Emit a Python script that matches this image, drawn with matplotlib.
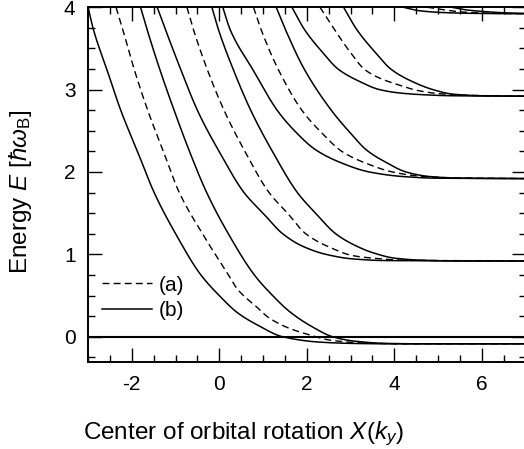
import numpy as np
from matplotlib import pyplot as plt

plt.rcParams['font.family'] = ['Liberation Sans', 'DejaVu Sans']
plt.rcParams['mathtext.fontset'] = 'custom'
plt.rcParams['mathtext.rm'] = 'Liberation Sans'
plt.rcParams['mathtext.it'] = 'Liberation Sans:italic'
plt.rcParams['axes.unicode_minus'] = False

# points, level by level (flat at about -0.085, 0.92, 1.92, 2.92, 3.92)
# level 0
x_s0a = [-3.0, -2.878, -2.57, -2.246, -1.865, -1.484, -0.995, -0.42, 0.0, 0.42, 0.9, 1.45, 2.3, 3.0, 3.8, 7.0]
e_s0a = [4.0, 3.73, 3.245, 2.74, 2.243, 1.745, 1.247, 0.75, 0.5, 0.29, 0.135, 0.0, -0.065, -0.08, -0.085, -0.085]
x_d0 = [-2.36, -2.207, -1.945, -1.63, -1.274, -0.91, -0.38, 0.21, 0.42, 0.88, 1.11, 1.53, 1.98, 2.59, 3.3, 4.2, 7.0]
e_d0 = [4.0, 3.73, 3.245, 2.74, 2.243, 1.745, 1.247, 0.75, 0.575, 0.35, 0.24, 0.118, 0.036, -0.045, -0.075, -0.085, -0.085]
x_s0b = [-1.80, -1.651, -1.36, -1.027, -0.676, -0.284, 0.21, 0.802, 1.22, 1.62, 2.135, 2.592, 3.05, 3.8, 4.5, 7.0]
e_s0b = [4.0, 3.73, 3.245, 2.74, 2.243, 1.745, 1.247, 0.75, 0.5, 0.30, 0.118, 0.0, -0.05, -0.08, -0.085, -0.085]

# level 1
x_s1a = [-1.42, -1.232, -0.882, -0.493, 0.002, 0.573, 1.0, 1.45, 1.9, 2.44, 3.05, 3.81, 7.0]
e_s1a = [4.0, 3.73, 3.245, 2.74, 2.243, 1.745, 1.5, 1.25, 1.10, 1.0, 0.945, 0.925, 0.92]
x_d1 = [-0.74, -0.592, -0.276, 0.116, 0.592, 1.145, 1.56, 1.983, 2.55, 3.05, 3.5, 4.2, 7.0]
e_d1 = [4.0, 3.73, 3.245, 2.74, 2.243, 1.745, 1.5, 1.247, 1.08, 0.985, 0.955, 0.93, 0.92]
x_s1b = [-0.17, -0.021, 0.318, 0.726, 1.221, 1.792, 2.2, 2.668, 3.1, 3.51, 4.0, 4.6, 5.5, 7.0]
e_s1b = [4.0, 3.73, 3.245, 2.74, 2.243, 1.745, 1.5, 1.247, 1.11, 1.02, 0.955, 0.93, 0.92, 0.92]

# level 2
x_s2a = [0.08, 0.246, 0.764, 1.335, 1.72, 2.2, 2.745, 3.43, 4.19, 4.95, 7.0]
e_s2a = [4.0, 3.73, 3.245, 2.74, 2.5, 2.27, 2.12, 2.0, 1.945, 1.925, 1.92]
x_d2 = [0.78, 0.954, 1.347, 1.9, 2.35, 2.82, 3.43, 3.96, 4.57, 5.3, 7.0]
e_d2 = [4.0, 3.73, 3.245, 2.74, 2.47, 2.243, 2.09, 2.0, 1.95, 1.93, 1.92]
x_s2b = [1.30, 1.51, 1.945, 2.573, 2.95, 3.38, 3.8, 4.27, 4.8, 5.5, 7.0]
e_s2b = [4.0, 3.73, 3.245, 2.74, 2.5, 2.26, 2.12, 2.0, 1.945, 1.925, 1.92]

# level 3
x_s3a = [1.66, 1.945, 2.33, 2.725, 3.2, 3.66, 4.1, 4.57, 5.33, 7.0]
e_s3a = [4.0, 3.73, 3.47, 3.245, 3.10, 3.0, 2.96, 2.94, 2.925, 2.92]
x_d3 = [2.3, 2.63, 2.97, 3.32, 3.62, 4.08, 4.57, 5.03, 5.7, 7.0]
e_d3 = [4.0, 3.73, 3.47, 3.245, 3.15, 3.06, 2.985, 2.95, 2.93, 2.92]
x_s3b = [2.84, 3.14, 3.55, 3.93, 4.4, 4.88, 5.33, 6.0, 7.0]
e_s3b = [4.0, 3.73, 3.46, 3.245, 3.10, 3.0, 2.945, 2.925, 2.92]

# level 4
x_s4a = [4.2, 4.6, 5.1, 5.8, 7.0]
e_s4a = [4.0, 3.955, 3.935, 3.925, 3.92]
x_d4 = [4.75, 5.1, 5.6, 6.3, 7.0]
e_d4 = [4.0, 3.97, 3.94, 3.925, 3.92]
x_s4b = [5.3, 5.6, 6.1, 6.6, 7.0]
e_s4b = [4.0, 3.97, 3.945, 3.93, 3.925]

solid = [(x_s0a, e_s0a), (x_s0b, e_s0b), (x_s1a, e_s1a), (x_s1b, e_s1b),
         (x_s2a, e_s2a), (x_s2b, e_s2b), (x_s3a, e_s3a), (x_s3b, e_s3b),
         (x_s4a, e_s4a), (x_s4b, e_s4b)]
dashed = [(x_d0, e_d0), (x_d1, e_d1), (x_d2, e_d2), (x_d3, e_d3), (x_d4, e_d4)]


def smooth(x, y, n=300):
    # monotone cubic (pchip) through the read points, only for drawing
    x = np.asarray(x, float)
    y = np.asarray(y, float)
    h = np.diff(x)
    d = np.diff(y) / h
    m = np.zeros_like(y)
    m[0], m[-1] = d[0], d[-1]
    for k in range(1, len(x) - 1):
        if d[k - 1] * d[k] > 0:
            w1 = 2 * h[k] + h[k - 1]
            w2 = h[k] + 2 * h[k - 1]
            m[k] = (w1 + w2) / (w1 / d[k - 1] + w2 / d[k])
    xs = np.linspace(x[0], x[-1], n)
    i = np.clip(np.searchsorted(x, xs) - 1, 0, len(h) - 1)
    t = (xs - x[i]) / h[i]
    ys = ((2 * t**3 - 3 * t**2 + 1) * y[i] + (t**3 - 2 * t**2 + t) * h[i] * m[i]
          + (-2 * t**3 + 3 * t**2) * y[i + 1] + (t**3 - t**2) * h[i] * m[i + 1])
    return xs, ys


fig = plt.figure(figsize=(5.24, 4.49), dpi=100)
ax = fig.add_axes([0.168, 0.193, 0.835, 0.791])

for x, e in dashed:
    ax.plot(*smooth(x, e), color='k', lw=1.0, dashes=(5, 3))
for x, e in solid:
    ax.plot(*smooth(x, e), color='k', lw=1.1)
ax.axhline(0, color='k', lw=1.5)

ax.plot([], [], color='k', lw=1.0, dashes=(5, 3), label='(a)')
ax.plot([], [], color='k', lw=1.1, label='(b)')
ax.legend(loc='upper left', bbox_to_anchor=(0.032, 0.244), frameon=False,
          fontsize=15, handlelength=2.4, handletextpad=0.3, labelspacing=0.3,
          borderpad=0, borderaxespad=0)

ax.set_xlim(-3, 7)
ax.set_ylim(-0.31, 4)
ax.set_xticks(np.arange(-2, 7, 2))
ax.set_xticks(np.arange(-3, 7.01, 0.5), minor=True)
ax.set_yticks(np.arange(0, 5, 1))
ax.set_yticks(np.arange(-0.25, 4.01, 0.25), minor=True)
ax.tick_params(which='both', direction='in', top=True, right=True, labelsize=15, width=1.0)
ax.tick_params(which='major', length=10, pad=9)
ax.tick_params(which='minor', length=5)
for s in ax.spines.values():
    s.set_linewidth(1.4)

ax.set_xlabel('Center of orbital rotation $X(k_y)$', fontsize=17.5)
ax.set_ylabel('Energy $E$ [$\\hbar\\omega_{\\rm B}$]', fontsize=17.5)
# the original figure is cut on the right, so the x label sits off-centre
ax.xaxis.set_label_coords(0.355, -0.16)
ax.yaxis.set_label_coords(-0.124, 0.48)

plt.savefig('out.png', dpi=100)
